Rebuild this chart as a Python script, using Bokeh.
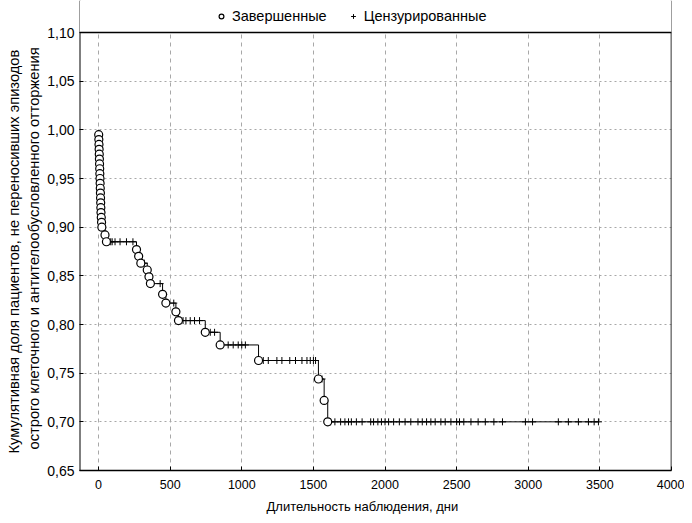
from bokeh.plotting import figure
from bokeh.models import (Legend, LegendItem, FixedTicker, Range1d, Span, BoxAnnotation,
                          Title)
from bokeh.embed import file_html
from bokeh.resources import INLINE

# Kaplan-Meier: complete events (days, cumulative proportion after event)
event_days = [1, 2, 3, 4, 5, 6, 7, 8, 9, 10, 11, 12, 13, 14, 15, 16, 17, 19, 21, 23,
              45, 55, 265, 280, 295, 340, 352, 362, 447, 470, 540, 558,
              745, 849, 1117, 1535, 1575, 1600]
event_surv = [0.995, 0.990, 0.985, 0.980, 0.975, 0.970, 0.965, 0.960, 0.955, 0.950,
              0.945, 0.940, 0.935, 0.930, 0.925, 0.920, 0.915, 0.910, 0.905, 0.900,
              0.892, 0.885, 0.877, 0.870, 0.863, 0.856, 0.849, 0.842, 0.831, 0.822,
              0.813, 0.804, 0.792, 0.779, 0.763, 0.744, 0.722, 0.700]
# censored observations (days)
cens_days = [70, 85, 95, 115, 150, 195, 240, 320, 430, 455, 525,
             590, 610, 640, 670, 705, 780, 810, 905, 940, 975, 1000, 1025,
             1150, 1185, 1245, 1280, 1335, 1375, 1420, 1455, 1478, 1500, 1515, 1560,
             1620, 1650, 1690, 1720, 1745, 1765, 1800, 1840, 1900, 1920, 1950, 1975,
             2000, 2025, 2060, 2100, 2140, 2180, 2230, 2260, 2290, 2320, 2350, 2390,
             2420, 2460, 2500, 2520, 2550, 2600, 2650, 2700, 2760, 2820, 2980, 3030,
             3210, 3280, 3350, 3420, 3460, 3490]

x_ticks = [0, 500, 1000, 1500, 2000, 2500, 3000, 3500, 4000]
y_ticks = [0.65, 0.70, 0.75, 0.80, 0.85, 0.90, 0.95, 1.00, 1.05, 1.10]
y_tick_labels = ["0,65", "0,70", "0,75", "0,80", "0,85", "0,90", "0,95", "1,00", "1,05", "1,10"]

legend_labels = ["Завершенные", "Цензурированные"]
x_title = "Длительность наблюдения, дни"
y_title_1 = "Кумулятивная доля пациентов, не переносивших эпизодов"
y_title_2 = "острого клеточного и антителообусловленного отторжения"


def surv_at(t):
    s = 1.0
    for d, v in zip(event_days, event_surv):
        if d <= t:
            s = v
    return s


cens_surv = [surv_at(t) for t in cens_days]

FONT = "Liberation Sans"

# layout geometry (px)
W, H = 684, 521
B_LEFT, B_RIGHT, B_BOTTOM = 79, 13, 51
FRAME_H = H - B_BOTTOM            # frame spans from top of canvas
DATA_TOP_PX = 32                  # where y = 1.10 lies inside the frame
y_lo, y_hi = y_ticks[0], y_ticks[-1]
y_top = y_lo + (y_hi - y_lo) * FRAME_H / (FRAME_H - DATA_TOP_PX)
x_lo, x_hi = -133, x_ticks[-1]

p = figure(width=W, height=H, output_backend="svg", toolbar_location=None,
           x_range=Range1d(x_lo, x_hi), y_range=Range1d(y_lo, y_top),
           min_border_left=B_LEFT, min_border_right=B_RIGHT,
           min_border_bottom=B_BOTTOM, min_border_top=0)
p.background_fill_color = "white"
p.border_fill_color = "white"
p.outline_line_color = None

step_x = [0] + event_days + [cens_days[-1]]
step_y = [1.0] + event_surv + [event_surv[-1]]
p.step(step_x, step_y, mode="after", line_color="black", line_width=1)

r_cens = p.scatter(cens_days, cens_surv, marker="cross", size=7,
                   line_color="black", line_width=1)
r_ev = p.scatter(event_days, event_surv, marker="circle", size=8,
                 line_color="black", fill_color="white", line_width=1.2)

for ax in (p.xaxis[0], p.yaxis[0]):
    ax.axis_line_color = "black"
    ax.axis_line_width = 1.6
    ax.major_tick_in = 4
    ax.major_tick_out = 0
    ax.minor_tick_line_color = None
    ax.major_tick_line_color = "black"
    ax.major_label_text_font = FONT
    ax.major_label_text_color = "black"

p.yaxis.axis_line_color = None   # left frame edge drawn as a span below
p.xaxis.major_label_text_font_size = "12.5px"
p.yaxis.major_label_text_font_size = "14px"

p.xaxis.ticker = FixedTicker(ticks=x_ticks)
p.yaxis.ticker = FixedTicker(ticks=y_ticks)
p.yaxis.major_label_overrides = dict(zip(y_ticks, y_tick_labels))
p.xaxis.major_label_standoff = 9
p.yaxis.major_label_standoff = 5


def side_title(text, size, offset, standoff):
    t = Title(text=text, align="left", offset=offset, standoff=standoff)
    t.text_font = FONT
    t.text_font_size = size
    t.text_font_style = "normal"
    t.text_color = "black"
    return t


p.add_layout(side_title(y_title_2, "14.7px", 21, 5), "left")
p.add_layout(side_title(y_title_1, "14.7px", 17, 0), "left")
p.add_layout(side_title(x_title, "13px", 187, 10), "below")

p.xgrid.ticker = FixedTicker(ticks=x_ticks)
p.ygrid.ticker = FixedTicker(ticks=y_ticks)
p.xgrid.grid_line_color = "#a8a8a8"
p.xgrid.grid_line_dash = "4 4"
p.xgrid.grid_line_width = 1
p.ygrid.grid_line_color = "#a8a8a8"
p.ygrid.grid_line_dash = "2 3"
p.ygrid.grid_line_width = 1

# left/right frame edges, then white cover above the data area, then top frame edge
p.add_layout(Span(location=x_lo, dimension="height", line_color="black", line_width=2))
p.add_layout(Span(location=x_hi, dimension="height", line_color="black", line_width=1.6))
p.add_layout(BoxAnnotation(bottom=y_hi, fill_color="white", fill_alpha=1.0,
                           line_color=None))
p.add_layout(Span(location=y_hi, dimension="width", line_color="black", line_width=1.6))

legend = Legend(items=[LegendItem(label=legend_labels[0], renderers=[r_ev]),
                       LegendItem(label=legend_labels[1], renderers=[r_cens])],
                orientation="horizontal", location=(136, FRAME_H - 25))
legend.border_line_color = None
legend.background_fill_alpha = 0
legend.label_text_font = FONT
legend.label_text_font_size = "14.5px"
legend.label_text_color = "black"
legend.padding = 0
legend.margin = 0
legend.spacing = 20
legend.glyph_width = 12
legend.glyph_height = 18
legend.label_height = 18
legend.label_standoff = 5
p.add_layout(legend, "center")

open("out.html", "w").write(file_html(p, INLINE))
